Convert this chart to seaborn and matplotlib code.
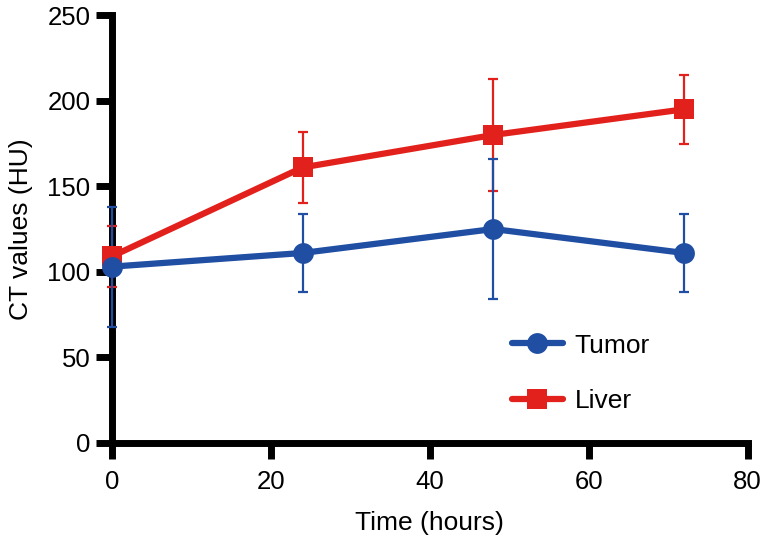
import numpy as np
import pandas as pd
import matplotlib
matplotlib.use("Agg")
import matplotlib.pyplot as plt
import seaborn as sns

# data
time_h = [0, 24, 48, 72]
tumor_ct = [103, 111, 125, 111]
tumor_err = [35, 23, 41, 23]
liver_ct = [109, 161, 180, 195]
liver_err = [18, 21, 33, 20]

colors = {"Tumor": "#1f4ea3", "Liver": "#e3211c"}
markers = {"Tumor": "o", "Liver": "s"}

df = pd.DataFrame({
    "time": time_h * 2,
    "ct": tumor_ct + liver_ct,
    "tissue": ["Tumor"] * 4 + ["Liver"] * 4,
})

sns.set_style("ticks", {"axes.edgecolor": "black", "xtick.color": "black",
                        "ytick.color": "black", "text.color": "black",
                        "axes.labelcolor": "black"})
plt.rcParams['font.family'] = ['Liberation Sans', 'DejaVu Sans']

fig = plt.figure(figsize=(7.66, 5.44), dpi=100)
ax = fig.add_axes([0.146, 0.186, 0.830, 0.786])

# error bars drawn above the axis spine, below the markers
for name, vals, errs in [("Liver", liver_ct, liver_err), ("Tumor", tumor_ct, tumor_err)]:
    ax.errorbar(time_h, vals, yerr=errs, fmt='none', ecolor=colors[name],
                elinewidth=1.6, capsize=3.8, capthick=1.6, clip_on=False, zorder=3)

# liver first so the tumor circles sit on top (as in the original)
sns.lineplot(data=df, x="time", y="ct", hue="tissue", style="tissue",
             palette=colors, markers=markers, dashes=False,
             hue_order=["Liver", "Tumor"], style_order=["Liver", "Tumor"],
             linewidth=4.5, markersize=15, markeredgewidth=0,
             ax=ax, clip_on=False, zorder=4)

ax.set_xlim(0, 80)
ax.set_ylim(0, 250)
ax.set_xticks([0, 20, 40, 60, 80])
ax.set_yticks([0, 50, 100, 150, 200, 250])

sns.despine(ax=ax)
for s in ["left", "bottom"]:
    ax.spines[s].set_linewidth(5)
    ax.spines[s].set_capstyle("projecting")
ax.tick_params(axis='both', length=11.5, width=5, labelsize=18.5, color='black')
ax.tick_params(axis='x', pad=8)
ax.tick_params(axis='y', pad=4)

ax.set_xlabel("Time (hours)", fontsize=19, labelpad=12)
ax.set_ylabel("CT values (HU)", fontsize=19, labelpad=10)

handles, labels = ax.get_legend_handles_labels()
order = [labels.index("Tumor"), labels.index("Liver")]
leg = ax.legend([handles[i] for i in order], [labels[i] for i in order],
                loc="center left", bbox_to_anchor=(0.63, 0.162),
                frameon=False, fontsize=19, handlelength=1.9, handletextpad=0.45,
                labelspacing=1.2, borderpad=0, borderaxespad=0)

fig.savefig("out.png", dpi=100)
